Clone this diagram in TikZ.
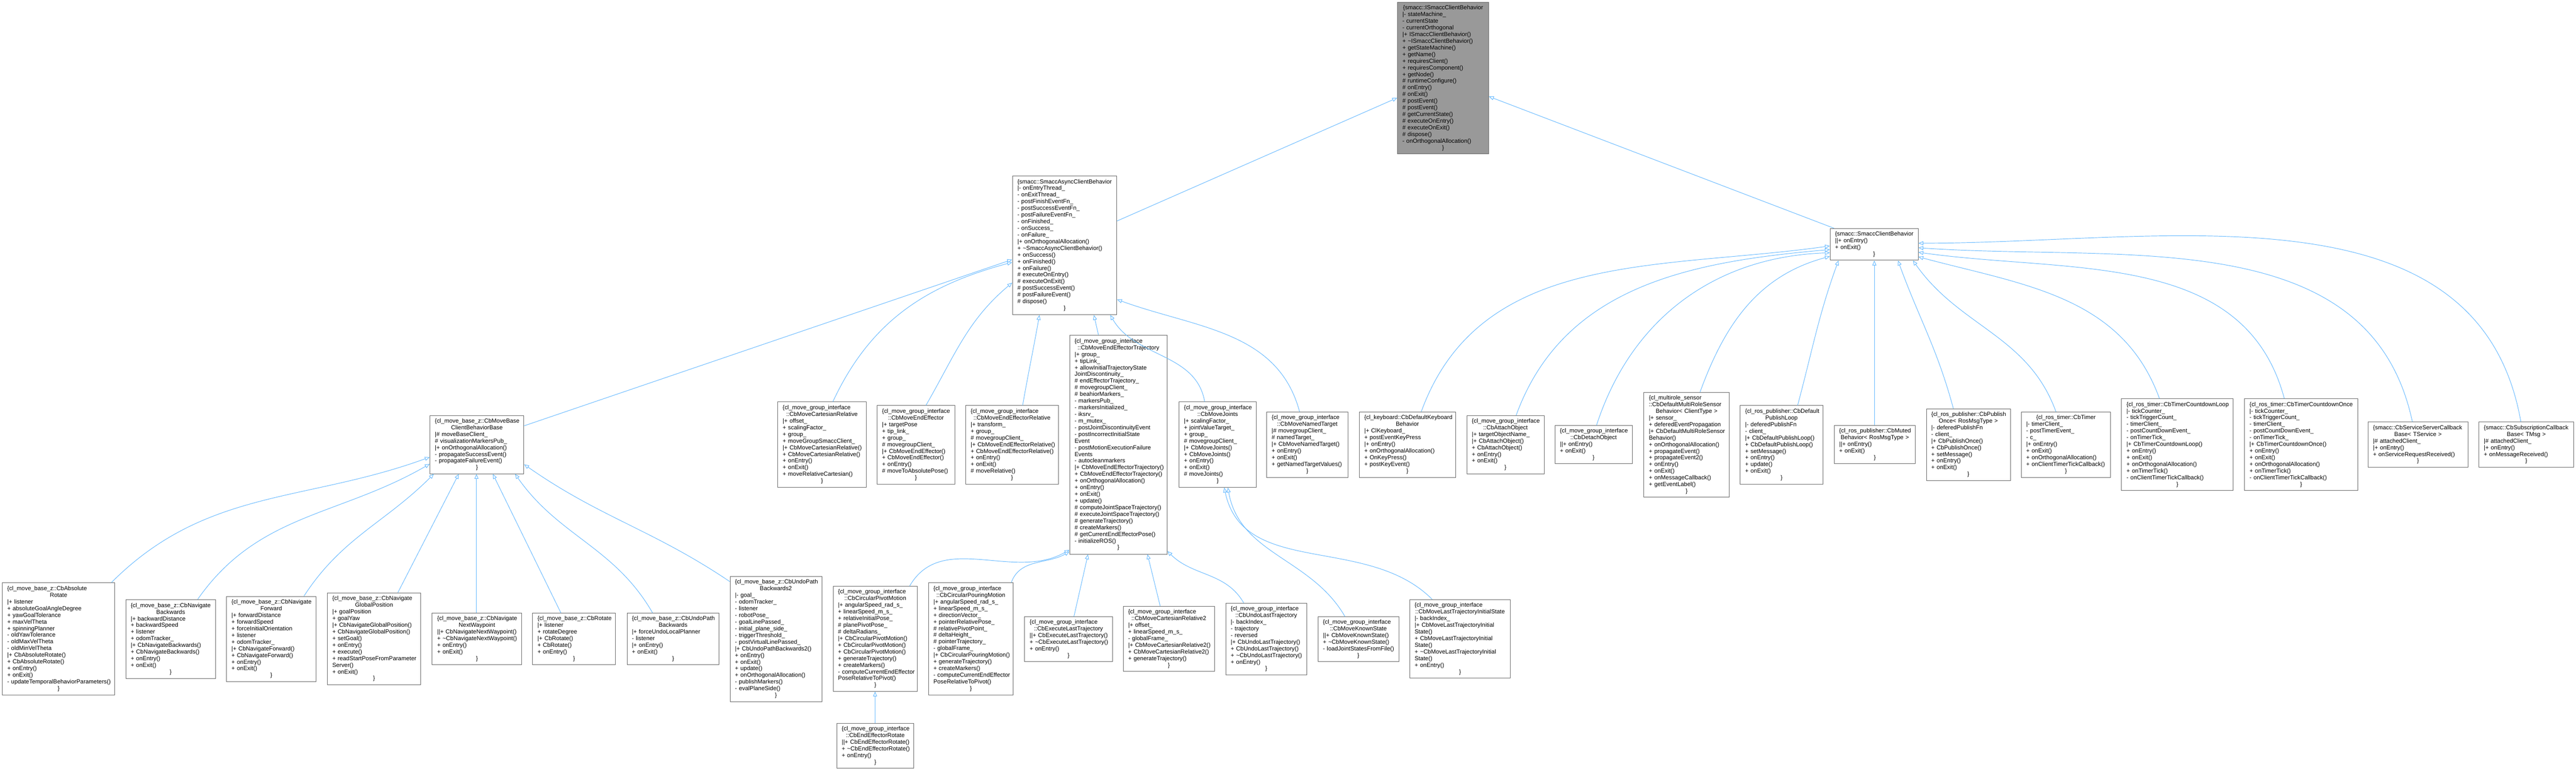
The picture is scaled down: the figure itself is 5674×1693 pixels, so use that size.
\documentclass[tikz,border=0pt]{standalone}
\usepackage{fontspec}
\setmainfont{Liberation Sans}
\usetikzlibrary{arrows.meta,calc}
\definecolor{edgeblue}{HTML}{63B8FF}
\definecolor{boxgray}{HTML}{666666}
\definecolor{topfill}{HTML}{999999}
\newcommand\lineL[1]{\hbox to\hsize{#1\hfil}}
\newcommand\lineC[1]{\hbox to\hsize{\hfil#1\hfil}}
\newcommand\clsbox[7][]{%
  \pgfmathsetmacro\boxW{(#5-#3)*0.75}%
  \pgfmathsetmacro\boxH{(#6-#4)*0.75}%
  \pgfmathsetmacro\txtW{(#5-#3-22)*0.75}%
  \node[cbox,#1,minimum width=\boxW pt,minimum height=\boxH pt,text width=\txtW pt] (#2) at ({(#3+#5)/2},{(#4+#6)/2}) {#7};}
\tikzset{
  cbox/.style={draw=boxgray, fill=white, line width=0.8pt, inner sep=0pt, font=\fontsize{9.7}{11}\selectfont},
  inh/.style={draw=edgeblue, line width=0.8pt, -{Triangle[length=8pt,width=6.5pt,fill=white]}}
}
\begin{document}
\begin{tikzpicture}[x=0.75pt,y=-0.75pt]
\fill[white] (0,0) rectangle (5674,1693);
\useasboundingbox (0,0) rectangle (5674,1693);

% rank 0
\clsbox[fill=topfill]{top}{3078}{5}{3279}{339}{%
\lineC{\{smacc::ISmaccClientBehavior}
\lineL{|- stateMachine\_}
\lineL{- currentState}
\lineL{- currentOrthogonal}
\lineL{|+ ISmaccClientBehavior()}
\lineL{+ \textasciitilde ISmaccClientBehavior()}
\lineL{+ getStateMachine()}
\lineL{+ getName()}
\lineL{+ requiresClient()}
\lineL{+ requiresComponent()}
\lineL{+ getNode()}
\lineL{\# runtimeConfigure()}
\lineL{\# onEntry()}
\lineL{\# onExit()}
\lineL{\# postEvent()}
\lineL{\# postEvent()}
\lineL{\# getCurrentState()}
\lineL{\# executeOnEntry()}
\lineL{\# executeOnExit()}
\lineL{\# dispose()}
\lineL{- onOrthogonalAllocation()}
\lineC{\}}}

% rank 1
\clsbox{async}{2230}{387}{2460}{693}{%
\lineC{\{smacc::SmaccAsyncClientBehavior}
\lineL{|- onEntryThread\_}
\lineL{- onExitThread\_}
\lineL{- postFinishEventFn\_}
\lineL{- postSuccessEventFn\_}
\lineL{- postFailureEventFn\_}
\lineL{- onFinished\_}
\lineL{- onSuccess\_}
\lineL{- onFailure\_}
\lineL{|+ onOrthogonalAllocation()}
\lineL{+ \textasciitilde SmaccAsyncClientBehavior()}
\lineL{+ onSuccess()}
\lineL{+ onFinished()}
\lineL{+ onFailure()}
\lineL{\# executeOnEntry()}
\lineL{\# executeOnExit()}
\lineL{\# postSuccessEvent()}
\lineL{\# postFailureEvent()}
\lineL{\# dispose()}
\lineC{\}}}

\clsbox{scb}{4031}{503}{4225}{573}{%
\lineC{\{smacc::SmaccClientBehavior}
\lineL{||+ onEntry()}
\lineL{+ onExit()}
\lineC{\}}}

% rank 2
\clsbox{mbase}{947}{915}{1154}{1043}{%
\lineL{\{cl\_move\_base\_z::CbMoveBase}
\lineC{ClientBehaviorBase}
\lineL{|\# moveBaseClient\_}
\lineL{\# visualizationMarkersPub\_}
\lineL{|+ onOrthogonalAllocation()}
\lineL{- propagateSuccessEvent()}
\lineL{- propagateFailureEvent()}
\lineC{\}}}

\clsbox{mcr}{1713}{885}{1908}{1073}{%
\lineL{\{cl\_move\_group\_interface}
\lineC{::CbMoveCartesianRelative}
\lineL{|+ offset\_}
\lineL{+ scalingFactor\_}
\lineL{+ group\_}
\lineL{+ moveGroupSmaccClient\_}
\lineL{|+ CbMoveCartesianRelative()}
\lineL{+ CbMoveCartesianRelative()}
\lineL{+ onEntry()}
\lineL{+ onExit()}
\lineL{+ moveRelativeCartesian()}
\lineC{\}}}

\clsbox{mee}{1932}{893}{2103}{1066}{%
\lineL{\{cl\_move\_group\_interface}
\lineC{::CbMoveEndEffector}
\lineL{|+ targetPose}
\lineL{+ tip\_link\_}
\lineL{+ group\_}
\lineL{\# movegroupClient\_}
\lineL{|+ CbMoveEndEffector()}
\lineL{+ CbMoveEndEffector()}
\lineL{+ onEntry()}
\lineL{\# moveToAbsolutePose()}
\lineC{\}}}

\clsbox{meer}{2127}{893}{2331}{1066}{%
\lineL{\{cl\_move\_group\_interface}
\lineC{::CbMoveEndEffectorRelative}
\lineL{|+ transform\_}
\lineL{+ group\_}
\lineL{\# movegroupClient\_}
\lineL{|+ CbMoveEndEffectorRelative()}
\lineL{+ CbMoveEndEffectorRelative()}
\lineL{+ onEntry()}
\lineL{+ onExit()}
\lineL{\# moveRelative()}
\lineC{\}}}

\clsbox{meet}{2356}{738}{2571}{1220}{%
\lineL{\{cl\_move\_group\_interface}
\lineC{::CbMoveEndEffectorTrajectory}
\lineL{|+ group\_}
\lineL{+ tipLink\_}
\lineL{+ allowInitialTrajectoryState}
\lineL{JointDiscontinuity\_}
\lineL{\# endEffectorTrajectory\_}
\lineL{\# movegroupClient\_}
\lineL{\# beahiorMarkers\_}
\lineL{- markersPub\_}
\lineL{- markersInitialized\_}
\lineL{- iksrv\_}
\lineL{- m\_mutex\_}
\lineL{- postJointDiscontinuityEvent}
\lineL{- postIncorrectInitialState}
\lineL{Event}
\lineL{- postMotionExecutionFailure}
\lineL{Events}
\lineL{- autocleanmarkers}
\lineL{|+ CbMoveEndEffectorTrajectory()}
\lineL{+ CbMoveEndEffectorTrajectory()}
\lineL{+ onOrthogonalAllocation()}
\lineL{+ onEntry()}
\lineL{+ onExit()}
\lineL{+ update()}
\lineL{\# computeJointSpaceTrajectory()}
\lineL{\# executeJointSpaceTrajectory()}
\lineL{\# generateTrajectory()}
\lineL{\# createMarkers()}
\lineL{\# getCurrentEndEffectorPose()}
\lineL{- initializeROS()}
\lineC{\}}}

\clsbox{mj}{2597}{885}{2767}{1073}{%
\lineL{\{cl\_move\_group\_interface}
\lineC{::CbMoveJoints}
\lineL{|+ scalingFactor\_}
\lineL{+ jointValueTarget\_}
\lineL{+ group\_}
\lineL{\# movegroupClient\_}
\lineL{|+ CbMoveJoints()}
\lineL{+ CbMoveJoints()}
\lineL{+ onEntry()}
\lineL{+ onExit()}
\lineL{\# moveJoints()}
\lineC{\}}}

\clsbox{mnt}{2790}{907}{2969}{1051}{%
\lineL{\{cl\_move\_group\_interface}
\lineC{::CbMoveNamedTarget}
\lineL{|\# movegroupClient\_}
\lineL{\# namedTarget\_}
\lineL{|+ CbMoveNamedTarget()}
\lineL{+ onEntry()}
\lineL{+ onExit()}
\lineL{+ getNamedTargetValues()}
\lineC{\}}}

\clsbox{kb}{2994}{907}{3206}{1051}{%
\lineL{\{cl\_keyboard::CbDefaultKeyboard}
\lineC{Behavior}
\lineL{|+ ClKeyboard\_}
\lineL{+ postEventKeyPress}
\lineL{|+ onEntry()}
\lineL{+ onOrthogonalAllocation()}
\lineL{+ OnKeyPress()}
\lineL{+ postKeyEvent()}
\lineC{\}}}

\clsbox{att}{3231}{915}{3401}{1043}{%
\lineL{\{cl\_move\_group\_interface}
\lineC{::CbAttachObject}
\lineL{|+ targetObjectName\_}
\lineL{|+ CbAttachObject()}
\lineL{+ CbAttachObject()}
\lineL{+ onEntry()}
\lineL{+ onExit()}
\lineC{\}}}

\clsbox{det}{3425}{937}{3595}{1021}{%
\lineL{\{cl\_move\_group\_interface}
\lineC{::CbDetachObject}
\lineL{||+ onEntry()}
\lineL{+ onExit()}
\lineC{\}}}

\clsbox{mrs}{3621}{864}{3809}{1095}{%
\lineL{\{cl\_multirole\_sensor}
\lineL{::CbDefaultMultiRoleSensor}
\lineC{Behavior< ClientType >}
\lineL{|+ sensor\_}
\lineL{+ deferedEventPropagation}
\lineL{|+ CbDefaultMultiRoleSensor}
\lineL{Behavior()}
\lineL{+ onOrthogonalAllocation()}
\lineL{+ propagateEvent()}
\lineL{+ propagateEvent2()}
\lineL{+ onEntry()}
\lineL{+ onExit()}
\lineL{+ onMessageCallback()}
\lineL{+ getEventLabel()}
\lineC{\}}}

\clsbox{dpl}{3833}{893}{4015}{1066}{%
\lineL{\{cl\_ros\_publisher::CbDefault}
\lineC{PublishLoop}
\lineL{|- deferedPublishFn}
\lineL{- client\_}
\lineL{|+ CbDefaultPublishLoop()}
\lineL{+ CbDefaultPublishLoop()}
\lineL{+ setMessage()}
\lineL{+ onEntry()}
\lineL{+ update()}
\lineL{+ onExit()}
\lineC{\}}}

\clsbox{mut}{4040}{937}{4219}{1021}{%
\lineL{\{cl\_ros\_publisher::CbMuted}
\lineC{Behavior< RosMsgType >}
\lineL{||+ onEntry()}
\lineL{+ onExit()}
\lineC{\}}}

\clsbox{po}{4243}{900}{4428}{1058}{%
\lineL{\{cl\_ros\_publisher::CbPublish}
\lineC{Once< RosMsgType >}
\lineL{|- deferedPublishFn}
\lineL{- client\_}
\lineL{|+ CbPublishOnce()}
\lineL{+ CbPublishOnce()}
\lineL{+ setMessage()}
\lineL{+ onEntry()}
\lineL{+ onExit()}
\lineC{\}}}

\clsbox{tim}{4452}{907}{4649}{1051}{%
\lineC{\{cl\_ros\_timer::CbTimer}
\lineL{|- timerClient\_}
\lineL{- postTimerEvent\_}
\lineL{- c\_}
\lineL{|+ onEntry()}
\lineL{+ onExit()}
\lineL{+ onOrthogonalAllocation()}
\lineL{+ onClientTimerTickCallback()}
\lineC{\}}}

\clsbox{tcl}{4673}{878}{4919}{1080}{%
\lineC{\{cl\_ros\_timer::CbTimerCountdownLoop}
\lineL{|- tickCounter\_}
\lineL{- tickTriggerCount\_}
\lineL{- timerClient\_}
\lineL{- postCountDownEvent\_}
\lineL{- onTimerTick\_}
\lineL{|+ CbTimerCountdownLoop()}
\lineL{+ onEntry()}
\lineL{+ onExit()}
\lineL{+ onOrthogonalAllocation()}
\lineL{+ onTimerTick()}
\lineL{- onClientTimerTickCallback()}
\lineC{\}}}

\clsbox{tco}{4944}{878}{5193}{1080}{%
\lineC{\{cl\_ros\_timer::CbTimerCountdownOnce}
\lineL{|- tickCounter\_}
\lineL{- tickTriggerCount\_}
\lineL{- timerClient\_}
\lineL{- postCountDownEvent\_}
\lineL{- onTimerTick\_}
\lineL{|+ CbTimerCountdownOnce()}
\lineL{+ onEntry()}
\lineL{+ onExit()}
\lineL{+ onOrthogonalAllocation()}
\lineL{+ onTimerTick()}
\lineL{- onClientTimerTickCallback()}
\lineC{\}}}

\clsbox{sscb}{5216}{929}{5436}{1029}{%
\lineL{\{smacc::CbServiceServerCallback}
\lineC{Base< TService >}
\lineL{|\# attachedClient\_}
\lineL{|+ onEntry()}
\lineL{+ onServiceRequestReceived()}
\lineC{\}}}

\clsbox{subcb}{5460}{929}{5669}{1029}{%
\lineL{\{smacc::CbSubscriptionCallback}
\lineC{Base< TMsg >}
\lineL{|\# attachedClient\_}
\lineL{|+ onEntry()}
\lineL{+ onMessageReceived()}
\lineC{\}}}

% rank 3
\clsbox{absr}{5}{1283}{253}{1530}{%
\lineL{\{cl\_move\_base\_z::CbAbsolute}
\lineC{Rotate}
\lineL{|+ listener}
\lineL{+ absoluteGoalAngleDegree}
\lineL{+ yawGoalTolerance}
\lineL{+ maxVelTheta}
\lineL{+ spinningPlanner}
\lineL{- oldYawTolerance}
\lineL{- oldMaxVelTheta}
\lineL{- oldMinVelTheta}
\lineL{|+ CbAbsoluteRotate()}
\lineL{+ CbAbsoluteRotate()}
\lineL{+ onEntry()}
\lineL{+ onExit()}
\lineL{- updateTemporalBehaviorParameters()}
\lineC{\}}}

\clsbox{navb}{277}{1320}{475}{1494}{%
\lineL{\{cl\_move\_base\_z::CbNavigate}
\lineC{Backwards}
\lineL{|+ backwardDistance}
\lineL{+ backwardSpeed}
\lineL{+ listener}
\lineL{+ odomTracker\_}
\lineL{|+ CbNavigateBackwards()}
\lineL{+ CbNavigateBackwards()}
\lineL{+ onEntry()}
\lineL{+ onExit()}
\lineC{\}}}

\clsbox{navf}{499}{1313}{696}{1501}{%
\lineL{\{cl\_move\_base\_z::CbNavigate}
\lineC{Forward}
\lineL{|+ forwardDistance}
\lineL{+ forwardSpeed}
\lineL{+ forceInitialOrientation}
\lineL{+ listener}
\lineL{+ odomTracker\_}
\lineL{|+ CbNavigateForward()}
\lineL{+ CbNavigateForward()}
\lineL{+ onEntry()}
\lineL{+ onExit()}
\lineC{\}}}

\clsbox{navg}{721}{1305}{927}{1508}{%
\lineL{\{cl\_move\_base\_z::CbNavigate}
\lineC{GlobalPosition}
\lineL{|+ goalPosition}
\lineL{+ goalYaw}
\lineL{|+ CbNavigateGlobalPosition()}
\lineL{+ CbNavigateGlobalPosition()}
\lineL{+ setGoal()}
\lineL{+ onEntry()}
\lineL{+ execute()}
\lineL{+ readStartPoseFromParameter}
\lineL{Server()}
\lineL{+ onExit()}
\lineC{\}}}

\clsbox{navn}{952}{1350}{1149}{1463}{%
\lineL{\{cl\_move\_base\_z::CbNavigate}
\lineC{NextWaypoint}
\lineL{||+ CbNavigateNextWaypoint()}
\lineL{+ \textasciitilde CbNavigateNextWaypoint()}
\lineL{+ onEntry()}
\lineL{+ onExit()}
\lineC{\}}}

\clsbox{rot}{1173}{1350}{1356}{1463}{%
\lineC{\{cl\_move\_base\_z::CbRotate}
\lineL{|+ listener}
\lineL{+ rotateDegree}
\lineL{|+ CbRotate()}
\lineL{+ CbRotate()}
\lineL{+ onEntry()}
\lineC{\}}}

\clsbox{undo}{1381}{1350}{1584}{1463}{%
\lineL{\{cl\_move\_base\_z::CbUndoPath}
\lineC{Backwards}
\lineL{|+ forceUndoLocalPlanner}
\lineL{- listener}
\lineL{|+ onEntry()}
\lineL{+ onExit()}
\lineC{\}}}

\clsbox{undotwo}{1608}{1269}{1810}{1545}{%
\lineL{\{cl\_move\_base\_z::CbUndoPath}
\lineC{Backwards2}
\lineL{|- goal\_}
\lineL{- odomTracker\_}
\lineL{- listener}
\lineL{- robotPose\_}
\lineL{- goalLinePassed\_}
\lineL{- initial\_plane\_side\_}
\lineL{- triggerThreshold\_}
\lineL{- postVirtualLinePassed\_}
\lineL{|+ CbUndoPathBackwards2()}
\lineL{+ onEntry()}
\lineL{+ onExit()}
\lineL{+ update()}
\lineL{+ onOrthogonalAllocation()}
\lineL{- publishMarkers()}
\lineL{- evalPlaneSide()}
\lineC{\}}}

\clsbox{cpm}{1835}{1291}{2021}{1522}{%
\lineL{\{cl\_move\_group\_interface}
\lineC{::CbCircularPivotMotion}
\lineL{|+ angularSpeed\_rad\_s\_}
\lineL{+ linearSpeed\_m\_s\_}
\lineL{+ relativeInitialPose\_}
\lineL{\# planePivotPose\_}
\lineL{\# deltaRadians\_}
\lineL{|+ CbCircularPivotMotion()}
\lineL{+ CbCircularPivotMotion()}
\lineL{+ CbCircularPivotMotion()}
\lineL{+ generateTrajectory()}
\lineL{+ createMarkers()}
\lineL{- computeCurrentEndEffector}
\lineL{PoseRelativeToPivot()}
\lineC{\}}}

\clsbox{cpo}{2045}{1283}{2232}{1530}{%
\lineL{\{cl\_move\_group\_interface}
\lineC{::CbCircularPouringMotion}
\lineL{|+ angularSpeed\_rad\_s\_}
\lineL{+ linearSpeed\_m\_s\_}
\lineL{+ directionVector\_}
\lineL{+ pointerRelativePose\_}
\lineL{\# relativePivotPoint\_}
\lineL{\# deltaHeight\_}
\lineL{\# pointerTrajectory\_}
\lineL{- globalFrame\_}
\lineL{|+ CbCircularPouringMotion()}
\lineL{+ generateTrajectory()}
\lineL{+ createMarkers()}
\lineL{- computeCurrentEndEffector}
\lineL{PoseRelativeToPivot()}
\lineC{\}}}

\clsbox{elt}{2257}{1358}{2450}{1456}{%
\lineL{\{cl\_move\_group\_interface}
\lineC{::CbExecuteLastTrajectory}
\lineL{||+ CbExecuteLastTrajectory()}
\lineL{+ \textasciitilde CbExecuteLastTrajectory()}
\lineL{+ onEntry()}
\lineC{\}}}

\clsbox{mcrtwo}{2474}{1335}{2675}{1478}{%
\lineL{\{cl\_move\_group\_interface}
\lineC{::CbMoveCartesianRelative2}
\lineL{|+ offset\_}
\lineL{+ linearSpeed\_m\_s\_}
\lineL{- globalFrame\_}
\lineL{|+ CbMoveCartesianRelative2()}
\lineL{+ CbMoveCartesianRelative2()}
\lineL{+ generateTrajectory()}
\lineC{\}}}

\clsbox{ult}{2700}{1328}{2878}{1486}{%
\lineL{\{cl\_move\_group\_interface}
\lineC{::CbUndoLastTrajectory}
\lineL{|- backIndex\_}
\lineL{- trajectory}
\lineL{- reversed}
\lineL{|+ CbUndoLastTrajectory()}
\lineL{+ CbUndoLastTrajectory()}
\lineL{+ \textasciitilde CbUndoLastTrajectory()}
\lineL{+ onEntry()}
\lineC{\}}}

\clsbox{mks}{2903}{1358}{3081}{1456}{%
\lineL{\{cl\_move\_group\_interface}
\lineC{::CbMoveKnownState}
\lineL{||+ CbMoveKnownState()}
\lineL{+ \textasciitilde CbMoveKnownState()}
\lineL{- loadJointStatesFromFile()}
\lineC{\}}}

\clsbox{mlt}{3105}{1320}{3327}{1493}{%
\lineL{\{cl\_move\_group\_interface}
\lineC{::CbMoveLastTrajectoryInitialState}
\lineL{|- backIndex\_}
\lineL{|+ CbMoveLastTrajectoryInitial}
\lineL{State()}
\lineL{+ CbMoveLastTrajectoryInitial}
\lineL{State()}
\lineL{+ \textasciitilde CbMoveLastTrajectoryInitial}
\lineL{State()}
\lineL{+ onEntry()}
\lineC{\}}}

% rank 4
\clsbox{eer}{1843}{1593}{2013}{1691}{%
\lineL{\{cl\_move\_group\_interface}
\lineC{::CbEndEffectorRotate}
\lineL{||+ CbEndEffectorRotate()}
\lineL{+ \textasciitilde CbEndEffectorRotate()}
\lineL{+ onEntry()}
\lineC{\}}}

% ---- edges (child -> parent) ----
\draw[inh] ($(async.north east)+(0,100)$) -- ($(top.north west)+(0,211)$);
\draw[inh] ($(scb.north west)+(9,0)$) -- ($(top.north east)+(0,208)$);

\draw[inh] ($(mbase.north east)+(0,23)$) -- ($(async.north west)+(0,185)$);
\draw[inh] ($(mcr.north west)+(122,0)$) to[out=65,in=195] ($(async.north west)+(0,191)$);
\draw[inh] ($(mee.north west)+(108,0)$) to[out=60,in=220] ($(async.north west)+(0,236)$);
\draw[inh] ($(meer.north west)+(126,0)$) to[out=80,in=260] ($(async.south west)+(60,0)$);
\draw[inh] ($(meet.north west)+(64,0)$) -- ($(async.south west)+(180,0)$);
\draw[inh] ($(mj.north west)+(57,0)$) to[out=100,in=300] ($(async.south east)+(-15,0)$);
\draw[inh] ($(mnt.north west)+(73,0)$) to[out=105,in=340] ($(async.north east)+(0,273)$);

\draw[inh] ($(kb.north west)+(137,0)$) to[out=70,in=188] ($(scb.north west)+(0,39)$);
\draw[inh] ($(att.north west)+(109,0)$) to[out=70,in=185] ($(scb.north west)+(0,47)$);
\draw[inh] ($(det.north west)+(92,0)$) to[out=72,in=182] ($(scb.north west)+(0,54)$);
\draw[inh] ($(mrs.north west)+(124,0)$) to[out=70,in=195] ($(scb.north west)+(0,62)$);
\draw[inh] ($(dpl.north west)+(127,0)$) to[out=75,in=250] ($(scb.south west)+(19,0)$);
\draw[inh] ($(mut.north west)+(89,0)$) -- ($(scb.south west)+(98,0)$);
\draw[inh] ($(po.north west)+(60,0)$) to[out=105,in=290] ($(scb.south west)+(150,0)$);
\draw[inh] ($(tim.north west)+(77,0)$) to[out=110,in=305] ($(scb.south east)+(-12,0)$);
\draw[inh] ($(tcl.north west)+(84,0)$) to[out=110,in=345] ($(scb.north east)+(0,63)$);
\draw[inh] ($(tco.north west)+(88,0)$) to[out=105,in=352] ($(scb.north east)+(0,53)$);
\draw[inh] ($(sscb.north west)+(98,0)$) to[out=102,in=356] ($(scb.north east)+(0,43)$);
\draw[inh] ($(subcb.north west)+(93,0)$) to[out=100,in=0] ($(scb.north east)+(0,33)$);

\draw[inh] ($(absr.north west)+(241,0)$) to[out=45,in=200] ($(mbase.north west)+(0,92)$);
\draw[inh] ($(navb.north west)+(159,0)$) to[out=55,in=210] ($(mbase.north west)+(0,107)$);
\draw[inh] ($(navf.north west)+(171,0)$) to[out=57,in=225] ($(mbase.south west)+(9,0)$);
\draw[inh] ($(navg.north west)+(156,0)$) -- ($(mbase.south west)+(64,0)$);
\draw[inh] ($(navn.north west)+(98,0)$) -- ($(mbase.south west)+(103,0)$);
\draw[inh] ($(rot.north west)+(63,0)$) -- ($(mbase.south west)+(139,0)$);
\draw[inh] ($(undo.north west)+(57,0)$) to[out=120,in=305] ($(mbase.south east)+(-20,0)$);
\draw[inh] ($(undotwo.north west)+(0,12)$) to[out=146,in=325] ($(mbase.north east)+(0,108)$);

\draw[inh] ($(cpm.north west)+(169,0)$) to[out=60,in=210] ($(meet.south west)+(0,-10)$);
\draw[inh] ($(cpo.north west)+(183,0)$) to[out=70,in=210] ($(meet.south west)+(0,-6)$);
\draw[inh] ($(elt.north west)+(109,0)$) -- ($(meet.south west)+(41,0)$);
\draw[inh] ($(mcrtwo.north west)+(82,0)$) -- ($(meet.south west)+(172,0)$);
\draw[inh] ($(ult.north west)+(40,0)$) to[out=120,in=315] ($(meet.south east)+(0,-7)$);

\draw[inh] ($(mks.north west)+(60,0)$) to[out=120,in=280] ($(mj.south west)+(108,0)$);
\draw[inh] ($(mlt.north west)+(50,0)$) to[out=135,in=282] ($(mj.south west)+(100,0)$);

\draw[inh] ($(eer.north west)+(85,0)$) -- ($(cpm.south west)+(93,0)$);
\end{tikzpicture}
\end{document}
